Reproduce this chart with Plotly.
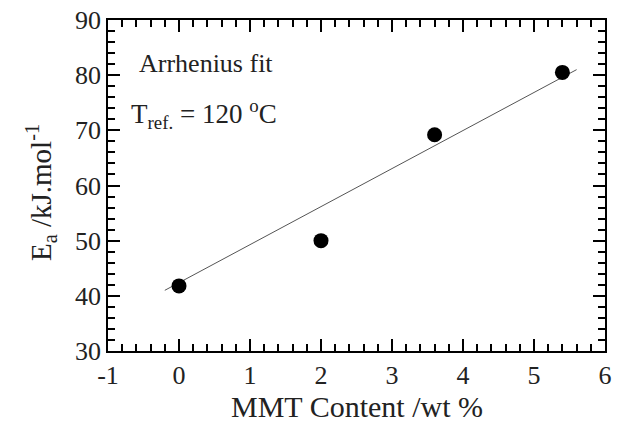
import plotly.graph_objects as go

# Activation energy vs. clay content
mmt_content = [0.0, 2.0, 3.6, 5.4]
activation_energy = [41.8, 50.0, 69.2, 80.5]

# Linear fit drawn across the data
fit_x = [-0.2, 5.6]
fit_y = [41.0, 81.0]

x_ticks = [-1, 0, 1, 2, 3, 4, 5, 6]
y_ticks = [30, 40, 50, 60, 70, 80, 90]

font_family = "Liberation Serif"
text_color = "#222"

fig = go.Figure()
fig.add_trace(go.Scatter(
    x=fit_x, y=fit_y, mode="lines",
    line=dict(color="#555555", width=1),
    showlegend=False,
))
fig.add_trace(go.Scatter(
    x=mmt_content, y=activation_energy, mode="markers",
    marker=dict(color="black", size=15),
    showlegend=False,
))

axis_common = dict(
    showgrid=False, zeroline=False,
    showline=True, linecolor="black", linewidth=1.5,
    mirror="allticks", ticks="inside", tickcolor="black",
    tickwidth=1.5, ticklen=12,
    tickfont=dict(family=font_family, size=26, color=text_color),
)

fig.update_xaxes(
    range=[-1, 6], tickvals=x_ticks, ticktext=[str(v) for v in x_ticks],
    minor=dict(dtick=0.2, ticks="inside", ticklen=7, tickcolor="black", tickwidth=1.5),
    **axis_common,
)
fig.update_yaxes(
    range=[30, 90], tickvals=y_ticks, ticktext=[str(v) for v in y_ticks],
    minor=dict(dtick=2, ticks="inside", ticklen=7, tickcolor="black", tickwidth=1.5),
    **axis_common,
)

fig.add_annotation(
    text="MMT Content /wt %", xref="paper", yref="paper",
    x=0.5, y=-0.225, yanchor="bottom", showarrow=False,
    font=dict(family=font_family, size=30, color=text_color),
)
fig.add_annotation(
    text="E<sub>a</sub> /kJ.mol<sup>-1</sup>", xref="paper", yref="paper",
    x=-0.135, y=0.48, xanchor="center", yanchor="middle", textangle=-90,
    showarrow=False, font=dict(family=font_family, size=29, color=text_color),
)
fig.add_annotation(
    text="Arrhenius fit", xref="paper", yref="paper",
    x=0.058, y=0.87, xanchor="left", yanchor="middle", showarrow=False,
    font=dict(family=font_family, size=26, color=text_color),
)
fig.add_annotation(
    text="T<sub>ref.</sub> = 120 <sup>o</sup>C", xref="paper", yref="paper",
    x=0.042, y=0.715, xanchor="left", yanchor="middle", showarrow=False,
    font=dict(family=font_family, size=27, color=text_color),
)

fig.update_layout(
    width=618, height=427,
    margin=dict(l=108, r=6, t=19, b=76),
    plot_bgcolor="white", paper_bgcolor="white",
)

fig.write_html("out.html")
